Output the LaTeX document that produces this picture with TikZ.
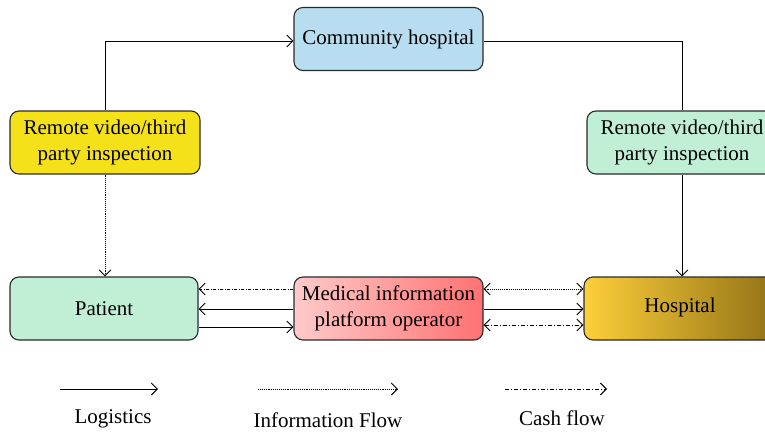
\documentclass[tikz,border=0pt]{standalone}
\usepackage{fontspec}
\setmainfont{Liberation Serif}
\usetikzlibrary{arrows.meta}
\definecolor{cblue}{HTML}{B9DDF0}
\definecolor{cyellow}{HTML}{F5E11A}
\definecolor{cgreen}{HTML}{C1EFD6}
\definecolor{cpinkL}{HTML}{FFCACA}
\definecolor{cpinkR}{HTML}{FF7272}
\definecolor{chospL}{HTML}{FDCF3A}
\definecolor{chospR}{HTML}{927216}
\definecolor{cborder}{HTML}{2A2A2A}
\begin{document}
\begin{tikzpicture}[x=1pt,y=-1pt,
  box/.style={draw=cborder,line width=1.1pt,rounded corners=9pt,minimum height=63pt,align=center,font=\fontsize{21}{25.5}\selectfont,inner sep=0pt},
  tip/.tip={Straight Barb[length=6pt,width=12pt,line width=0.9pt]},
  flow/.style={line width=0.9pt,-tip},
  flowb/.style={line width=0.9pt,tip-tip},
  info/.style={densely dotted},
  cash/.style={dash pattern=on 4pt off 2pt on 1pt off 2pt},
  lbl/.style={font=\fontsize{21}{25}\selectfont}]
\useasboundingbox (0,0) rectangle (765,434);
\clip (0,0) rectangle (765,434);
\node[box,fill=cblue,minimum width=189pt] (ch) at (388.5,39) {Community hospital};
\node[box,fill=cyellow,minimum width=190pt] (rl) at (105,142.5) {Remote video/third\\party inspection};
\node[box,fill=cgreen,minimum width=190pt] (rr) at (682,142.5) {Remote video/third\\party inspection};
\node[box,fill=cgreen,minimum width=188pt] (pa) at (104,308.5) {Patient};
\node[box,left color=cpinkL,right color=cpinkR,minimum width=189pt] (mi) at (388.5,308.5) {Medical information\\platform operator};
\node[box,left color=chospL,right color=chospR,minimum width=191pt] (ho) at (679.5,308.5) {};
\node[lbl] (hot) at (680,307) {Hospital};
% top loop
\draw[flow] (rl.north) |- ([yshift=-2pt]ch.west);
\draw[line width=0.9pt] ([yshift=-2pt]ch.east) -| (rr.north);
\draw[flow] (rr.south) -- (rr.south |- ho.north);
\draw[flow,info] (rl.south) -- (rl.south |- pa.north);
% patient <-> platform
\draw[flow,dash pattern=on 3pt off 1.5pt on 1pt off 1.5pt] ([yshift=19.5pt]mi.west) -- ([yshift=19.5pt]pa.east);
\draw[flow] ([yshift=-0.5pt]mi.west) -- ([yshift=-0.5pt]pa.east);
\draw[flow] ([yshift=-18.5pt]pa.east) -- ([yshift=-18.5pt]mi.west);
% platform <-> hospital
\draw[flowb,info] ([yshift=19.5pt]mi.east) -- ([yshift=19.5pt]ho.west);
\draw[flow] ([yshift=-0.5pt]mi.east) -- ([yshift=-0.5pt]ho.west);
\draw[flowb,cash] ([yshift=-16.5pt]mi.east) -- ([yshift=-16.5pt]ho.west);
% legend
\coordinate (l1a) at (60,389); \coordinate (l1b) at (158,389);
\coordinate (l2a) at (258,389); \coordinate (l2b) at (398,389);
\coordinate (l3a) at (505,389); \coordinate (l3b) at (607,389);
\draw[flow] (l1a) -- (l1b);
\draw[flow,info] (l2a) -- (l2b);
\draw[flow,cash] (l3a) -- (l3b);
\node[lbl] (t1) at (113,419) {Logistics};
\node[lbl] (t2) at (328,420) {Information Flow};
\node[lbl] (t3) at (562,418) {Cash flow};
\end{tikzpicture}
\end{document}
